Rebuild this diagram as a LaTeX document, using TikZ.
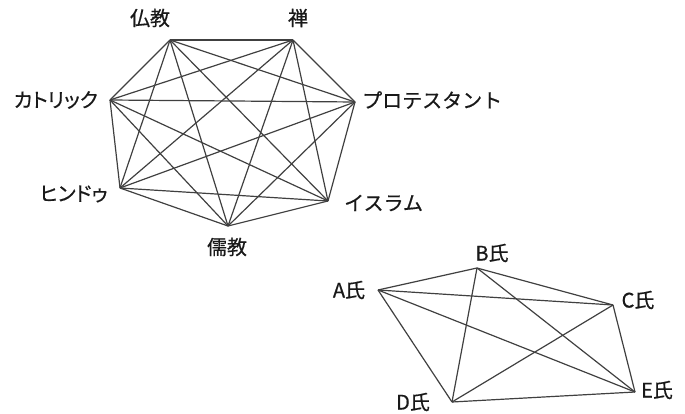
\documentclass[tikz,border=0pt]{standalone}
\usepackage{fontspec}
\setmainfont{Noto Sans CJK JP}[FakeBold=0.6]
\newfontfamily\palfont{Noto Sans CJK JP}[FakeBold=0.6,RawFeature=+palt]
\begin{document}
\begin{tikzpicture}[x=1pt,y=-1pt,
  lbl/.style={font=\fontsize{20}{20}\selectfont,inner sep=0pt,text=black!90},
  plbl/.style={lbl,font=\palfont\fontsize{20}{20}\selectfont},
  edge/.style={draw=black!75,line width=1.2pt}]
\useasboundingbox (0,0) rectangle (685,414);
% heptagon vertices
\coordinate (bu) at (170,40);
\coordinate (ze) at (293,40);
\coordinate (pr) at (355,102);
\coordinate (is) at (328,201);
\coordinate (ju) at (228,226);
\coordinate (hi) at (120,188);
\coordinate (ka) at (110,100);
\foreach \a/\b in {bu/ze,bu/pr,bu/is,bu/ju,bu/hi,bu/ka,
  ze/pr,ze/is,ze/ju,ze/hi,ze/ka,
  pr/is,pr/ju,pr/hi,pr/ka,
  is/ju,is/hi,is/ka,
  ju/hi,ju/ka,
  hi/ka}
  \draw[edge] (\a) -- (\b);
\node[lbl] (lbu) at (150,18) {仏教};
\node[lbl] (lze) at (298,18) {禅};
\node[plbl,anchor=east] (lka) at (98,100) {カトリック};
\node[lbl,anchor=west] (lpr) at (362,100) {プロテスタント};
\node[plbl,anchor=east] (lhi) at (108,194) {ヒンドゥ};
\node[lbl,anchor=west] (lis) at (344,203) {イスラム};
\node[lbl] (lju) at (227,247) {儒教};
% second graph
\coordinate (A) at (378,290);
\coordinate (B) at (477,268);
\coordinate (C) at (613,305);
\coordinate (D) at (452,402);
\coordinate (E) at (635,392);
\foreach \a/\b in {A/B,A/C,A/D,A/E,B/C,B/D,B/E,C/D,C/E,D/E}
  \draw[edge] (\a) -- (\b);
\node[lbl] (lA) at (349,290) {A氏};
\node[lbl] (lB) at (492,253) {B氏};
\node[lbl] (lC) at (638,300) {C氏};
\node[lbl] (lD) at (413,402) {D氏};
\node[lbl] (lE) at (657,390) {E氏};
\end{tikzpicture}
\end{document}
